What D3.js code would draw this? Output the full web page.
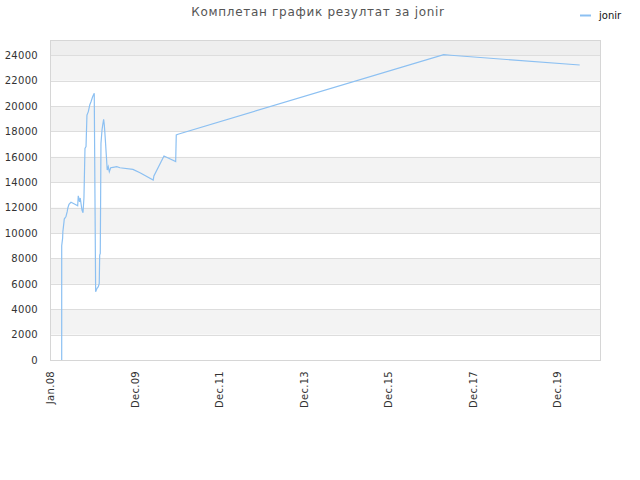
<!DOCTYPE html>
<html>
<head>
<meta charset="utf-8">
<script src="https://cdn.jsdelivr.net/npm/d3@7"></script>
<style>
  body { margin: 0; background: #fff; }
  text { font-family: "DejaVu Sans", sans-serif; }
</style>
</head>
<body>
<div id="chart"></div>
<script>
// data
let dates = [
    "2008-04-11", "2008-04-11", "2008-04-19", "2008-04-21", "2008-05-01", "2008-05-03",
    "2008-05-18", "2008-05-29", "2008-06-03", "2008-06-13", "2008-06-30", "2008-07-26",
    "2008-08-27", "2008-09-01", "2008-09-12", "2008-09-18", "2008-10-03", "2008-10-12",
    "2008-10-20", "2008-10-29", "2008-11-07", "2008-11-15", "2008-11-27", "2008-12-09",
    "2008-12-20", "2009-01-03", "2009-01-17", "2009-01-23", "2009-01-29", "2009-02-10",
    "2009-02-21", "2009-03-01", "2009-03-05", "2009-03-10", "2009-03-16", "2009-03-25",
    "2009-03-31", "2009-04-08", "2009-04-14", "2009-04-22", "2009-05-01", "2009-05-09",
    "2009-05-18", "2009-05-27", "2009-06-08", "2009-06-28", "2009-07-30", "2009-08-27",
    "2009-12-17", "2010-02-16", "2010-06-10", "2010-06-16", "2010-09-11", "2010-12-21",
    "2010-12-26", "2011-01-10", "2017-04-22", "2017-06-21", "2020-07-09"
];
let scores = [
    0, 9000, 9600, 10100, 10900, 11100,
    11300, 11700, 11970, 12260, 12420, 12300,
    12150, 12930, 12460, 12760, 11810, 11600,
    12750, 16670, 16800, 19290, 19560, 20080,
    20340, 20730, 21000, 13100, 5380, 5640,
    5770, 6040, 8270, 8400, 17060, 18110,
    18500, 18950, 18500, 17450, 16140, 14960,
    15220, 14830, 15140, 15170, 15220, 15140,
    15010, 14750, 14170, 14490, 16060, 15620,
    17720, 17780, 24040, 24000, 23230
];
let yTicks = [0, 2000, 4000, 6000, 8000, 10000, 12000, 14000, 16000, 18000, 20000, 22000, 24000];
let seriesName = "jonir";
let title = "Комплетан график резултат за jonir";

let width = 640;
let height = 480;
let margin = { top: 40, right: 40, bottom: 120, left: 50 };
let plotW = width - margin.left - margin.right;
let plotH = height - margin.top - margin.bottom;

let parse = d3.timeParse("%Y-%m-%d");
let points = dates.map((d, i) => ({ date: parse(d), value: scores[i] }));

let startDate = new Date(2008, 0, 1);
let xScale = d3.scaleTime()
    .domain([startDate, new Date(2020, 11, 31)])
    .range([0, plotW]);
let yScale = d3.scaleLinear()
    .domain([0, 25200])
    .range([plotH, 0]);

// ticks every 730 days from the start, as the picture has
let xTicks = d3.range(7).map(k => d3.timeDay.offset(startDate, k * 730));

let svg = d3.select("#chart")
    .append("svg")
    .attr("width", width)
    .attr("height", height);

let g = svg.append("g")
    .attr("transform", `translate(${margin.left},${margin.top})`);

// top strip above the last gridline
g.append("rect")
    .attr("x", 0)
    .attr("y", 0)
    .attr("width", plotW)
    .attr("height", yScale(24000))
    .attr("fill", "#eeeeee");

// alternating bands
g.append("g")
    .selectAll("rect")
    .data(yTicks.slice(0, -1).filter((d, i) => i % 2 == 1))
    .enter()
    .append("rect")
    .attr("x", 0)
    .attr("y", d => yScale(d + 2000))
    .attr("width", plotW)
    .attr("height", d => yScale(d) - yScale(d + 2000))
    .attr("fill", "#f3f3f3");

g.append("g")
    .selectAll("line")
    .data(yTicks)
    .enter()
    .append("line")
    .attr("x1", 0)
    .attr("x2", plotW)
    .attr("y1", d => Math.round(yScale(d)) + 0.5)
    .attr("y2", d => Math.round(yScale(d)) + 0.5)
    .attr("stroke", "#dddddd");

g.append("rect")
    .attr("x", 0.5)
    .attr("y", 0.5)
    .attr("width", plotW)
    .attr("height", plotH)
    .attr("fill", "none")
    .attr("stroke", "#d6d6d6");

// y axis labels
let yAxis = d3.axisLeft(yScale)
    .tickValues(yTicks)
    .tickFormat(d3.format("d"))
    .tickSize(0)
    .tickPadding(12);
let yg = g.append("g").call(yAxis);
yg.select(".domain").remove();
yg.selectAll("text")
    .attr("fill", "#333")
    .style("font-size", "10px")
    .style("letter-spacing", "0.3px");

// x axis labels
let xAxis = d3.axisBottom(xScale)
    .tickValues(xTicks)
    .tickFormat(d3.timeFormat("%b.%y"))
    .tickSize(0);
let xg = g.append("g")
    .attr("transform", `translate(0,${plotH})`)
    .call(xAxis);
xg.select(".domain").remove();
xg.selectAll("text")
    .attr("fill", "#333")
    .style("font-size", "10px")
    .style("letter-spacing", "0.3px")
    .attr("text-anchor", "end")
    .attr("dy", "0.35em")
    .attr("transform", "translate(0,11) rotate(-90)")
    .attr("x", 0)
    .attr("y", 0);

let line = d3.line()
    .x(d => xScale(d.date))
    .y(d => yScale(d.value));

g.append("path")
    .datum(points)
    .attr("d", line)
    .attr("fill", "none")
    .attr("stroke", "#8cc0f2")
    .attr("stroke-width", 1.2);

svg.append("text")
    .attr("x", 318)
    .attr("y", 16)
    .attr("text-anchor", "middle")
    .attr("fill", "#555")
    .style("font-size", "12px")
    .style("letter-spacing", "0.7px")
    .text(title);

// legend
svg.append("line")
    .attr("x1", 580)
    .attr("x2", 591)
    .attr("y1", 15.5)
    .attr("y2", 15.5)
    .attr("stroke", "#8cc0f2")
    .attr("stroke-width", 2);
svg.append("text")
    .attr("x", 599)
    .attr("y", 19)
    .attr("fill", "#111")
    .style("font-size", "10px")
    .text(seriesName);
</script>
</body>
</html>
